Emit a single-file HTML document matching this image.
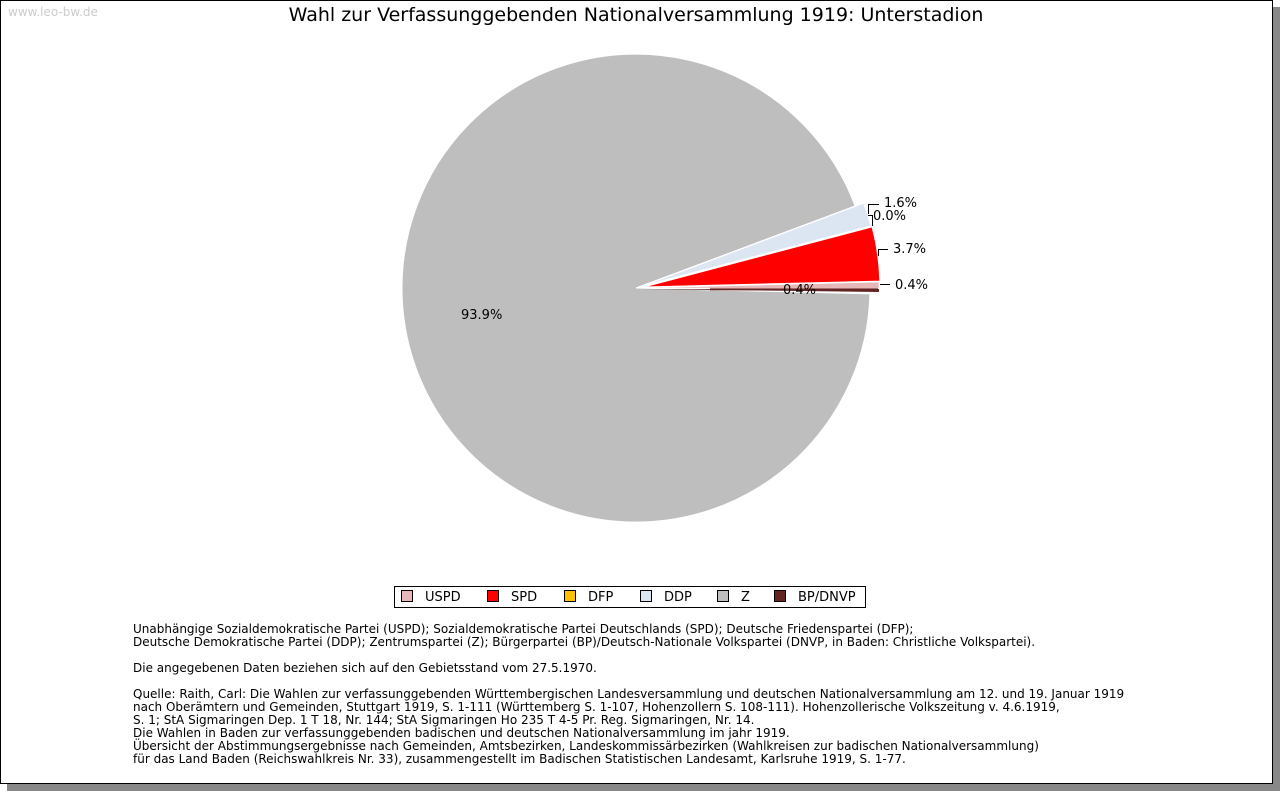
<!DOCTYPE html>
<html><head><meta charset="utf-8"><style>
body{margin:0;width:1280px;height:791px;background:#fff;overflow:hidden;font-family:"DejaVu Sans",Verdana,sans-serif;}
.frame{position:absolute;left:0;top:0;width:1271px;height:782px;border:1px solid #000;background:#fff;box-shadow:7px 7px 0 #888;}
.wm{position:absolute;left:8px;top:5px;font-size:12px;color:#ccc;}
.title{position:absolute;left:0;width:1272px;top:4px;text-align:center;font-size:19px;color:#000;}
.notes{position:absolute;left:133px;top:623px;font-size:12px;line-height:13px;color:#000;white-space:pre;}
.legend{position:absolute;left:394px;top:586px;width:470px;height:20px;border:1px solid #000;font-size:13px;}
.li{position:absolute;top:3px;}
.sw{display:inline-block;width:10px;height:10px;border:1px solid #000;vertical-align:-1px;margin-right:12px;}
</style></head><body>
<div class="frame"></div>
<div class="wm">www.leo-bw.de</div>
<div class="title">Wahl zur Verfassunggebenden Nationalversammlung 1919: Unterstadion</div>
<svg width="1280" height="791" style="position:absolute;left:0;top:0" font-family="DejaVu Sans, Verdana, sans-serif" font-size="13">
<path d="M636,288 L855.1,206 A234,234 0 1 0 869.9,293.9 Z" fill="#bebebe" stroke="#fff" stroke-width="1"/>
<path d="M643,288 L879,288 A236,236 0 0 0 878.9,282.1 Z" fill="#e6b8b8" stroke="#fff" stroke-width="0.5"/>
<path d="M643.9,287 L879.8,281.1 A236,236 0 0 0 872.1,226.9 Z" fill="#ff0000" stroke="#fff" stroke-width="1"/>
<path d="M642.7,285.9 L870.9,225.8 A236,236 0 0 0 863.7,203.2 Z" fill="#dce6f2" stroke="#fff" stroke-width="1"/>
<path d="M643,289 L879,289 A236,236 0 0 1 878.9,292 Z" fill="#632523" stroke="none"/>
<rect x="710" y="287" width="168" height="1.5" fill="#e6b8b8"/>
<rect x="710" y="288.5" width="168" height="1.8" fill="#632523"/>
<g stroke="#000" stroke-width="1" fill="none">
<path d="M868.5,214 V204.5 H879"/>
<path d="M872.5,226 V215.5 H868"/>
<path d="M878.5,256 V249.5 H888"/>
<path d="M880,284.5 H890"/>
</g>
<text x="884" y="207">1.6%</text>
<text x="873" y="220">0.0%</text>
<text x="893" y="253">3.7%</text>
<text x="895" y="289">0.4%</text>
<text x="783" y="294">0.4%</text>
<text x="461" y="319">93.9%</text>
</svg>
<div class="legend">
<span class="li" style="left:6px"><span class="sw" style="background:#e6b8b8"></span>USPD</span>
<span class="li" style="left:92px"><span class="sw" style="background:#ff0000"></span>SPD</span>
<span class="li" style="left:169px"><span class="sw" style="background:#ffc000"></span>DFP</span>
<span class="li" style="left:245px"><span class="sw" style="background:#dce6f2"></span>DDP</span>
<span class="li" style="left:322px"><span class="sw" style="background:#bebebe"></span>Z</span>
<span class="li" style="left:379px"><span class="sw" style="background:#632523"></span>BP/DNVP</span>
</div>
<div class="notes">Unabhängige Sozialdemokratische Partei (USPD); Sozialdemokratische Partei Deutschlands (SPD); Deutsche Friedenspartei (DFP);
Deutsche Demokratische Partei (DDP); Zentrumspartei (Z); Bürgerpartei (BP)/Deutsch-Nationale Volkspartei (DNVP, in Baden: Christliche Volkspartei).

Die angegebenen Daten beziehen sich auf den Gebietsstand vom 27.5.1970.

Quelle: Raith, Carl: Die Wahlen zur verfassunggebenden Württembergischen Landesversammlung und deutschen Nationalversammlung am 12. und 19. Januar 1919
nach Oberämtern und Gemeinden, Stuttgart 1919, S. 1-111 (Württemberg S. 1-107, Hohenzollern S. 108-111). Hohenzollerische Volkszeitung v. 4.6.1919,
S. 1; StA Sigmaringen Dep. 1 T 18, Nr. 144; StA Sigmaringen Ho 235 T 4-5 Pr. Reg. Sigmaringen, Nr. 14.
Die Wahlen in Baden zur verfassunggebenden badischen und deutschen Nationalversammlung im jahr 1919.
Übersicht der Abstimmungsergebnisse nach Gemeinden, Amtsbezirken, Landeskommissärbezirken (Wahlkreisen zur badischen Nationalversammlung)
für das Land Baden (Reichswahlkreis Nr. 33), zusammengestellt im Badischen Statistischen Landesamt, Karlsruhe 1919, S. 1-77.</div>
</body></html>
